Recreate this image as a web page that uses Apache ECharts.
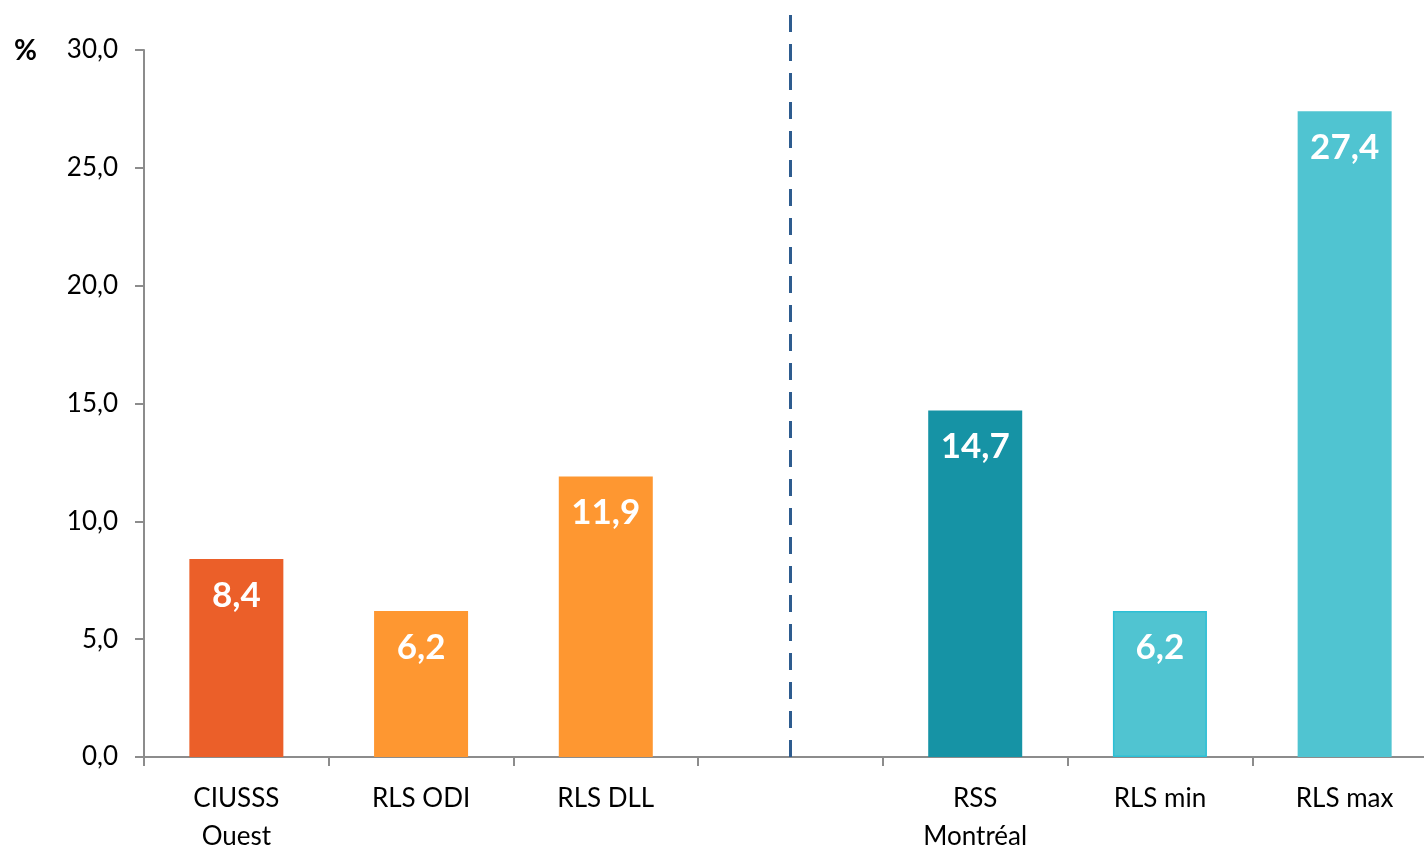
<!DOCTYPE html>
<html>
<head>
<meta charset="utf-8">
<script src="https://cdn.jsdelivr.net/npm/echarts@6/dist/echarts.min.js"></script>
<style>
  html, body { margin: 0; padding: 0; background: #fff; }
  #chart { width: 1424px; height: 850px; }
</style>
</head>
<body>
<div id="chart"></div>
<script>
// categories (index 3 is the empty gap with the dashed separator)
var categories = ["CIUSSS\nOuest", "RLS ODI", "RLS DLL", "", "RSS\nMontréal", "RLS min", "RLS max"];
var values = [8.4, 6.2, 11.9, null, 14.7, 6.2, 27.4];
var yTicks = [0, 5, 10, 15, 20, 25, 30];
var separatorIndex = 3;

var barColors = ["#EB5F29", "#FE9731", "#FE9731", "#fff", "#1693A5", "#50C4D1", "#50C4D1"];
var font = "Lato, 'Open Sans', sans-serif";

function fr(v) {
  return Number(v).toFixed(1).replace(".", ",");
}

var chart = echarts.init(document.getElementById("chart"));
var option = {
  animation: false,
  textStyle: { fontFamily: font },
  graphic: [{
    type: "text",
    left: 14,
    top: 37,
    style: { text: "%", font: "bold 28px " + font, fill: "#000" }
  }],
  grid: [
    { left: 144, right: -13, top: 50, bottom: 93, outerBoundsMode: "none" },
    { left: 144, right: -13, top: 12, bottom: 93, outerBoundsMode: "none" }
  ],
  xAxis: [{
    type: "category",
    gridIndex: 0,
    data: categories,
    axisLine: { lineStyle: { color: "#8C8C8C", width: 2 } },
    axisTick: { show: true, length: 9, lineStyle: { color: "#8C8C8C", width: 2 } },
    axisLabel: { color: "#000", fontSize: 26, lineHeight: 38, margin: 23, fontFamily: font }
  }, {
    type: "category",
    gridIndex: 1,
    data: categories,
    show: false
  }],
  yAxis: [{
    type: "value",
    gridIndex: 0,
    min: yTicks[0],
    max: yTicks[yTicks.length - 1],
    interval: 5,
    splitLine: { show: false },
    axisLine: { show: true, lineStyle: { color: "#8C8C8C", width: 2 } },
    axisTick: { show: true, length: 9, lineStyle: { color: "#8C8C8C", width: 2 } },
    axisLabel: { color: "#000", fontSize: 26, margin: 26, fontFamily: font, formatter: fr }
  }, {
    type: "value",
    gridIndex: 1,
    show: false,
    min: 0,
    max: 1
  }],
  series: [{
    type: "bar",
    xAxisIndex: 0,
    yAxisIndex: 0,
    barWidth: 94,
    data: values.map(function (v, i) {
      return {
        value: v === null ? "-" : v,
        itemStyle: {
          color: barColors[i],
          borderColor: i === 5 ? "#2CBFD5" : barColors[i],
          borderWidth: i === 5 ? 1.5 : 0
        }
      };
    }),
    label: {
      show: true,
      position: "insideTop",
      distance: 19,
      color: "#fff",
      fontSize: 35,
      fontWeight: "bold",
      fontFamily: font,
      formatter: function (p) { return fr(p.value); }
    }
  }, {
    type: "line",
    xAxisIndex: 1,
    yAxisIndex: 1,
    data: [],
    silent: true,
    markLine: {
      symbol: "none",
      silent: true,
      label: { show: false },
      lineStyle: { color: "#2E5C8F", width: 3, type: [17, 12] },
      data: [{ xAxis: separatorIndex }]
    }
  }]
};
chart.setOption(option);
</script>
</body>
</html>
